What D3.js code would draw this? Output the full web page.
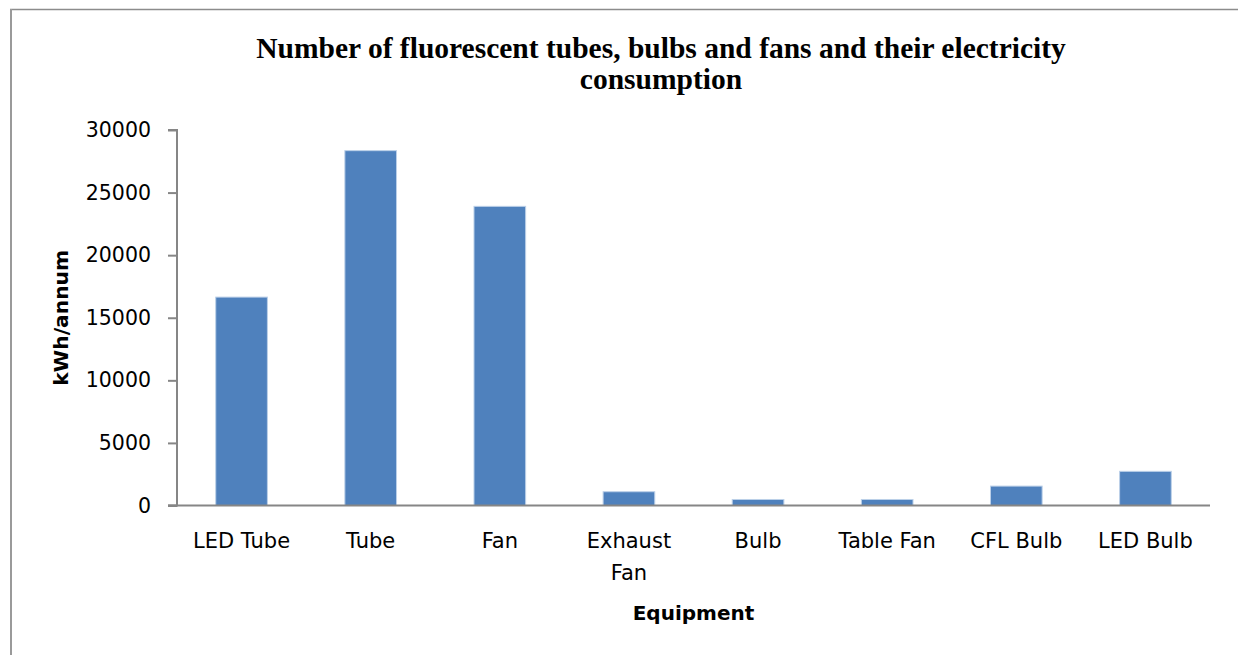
<!DOCTYPE html>
<html>
<head>
<meta charset="utf-8">
<script src="https://cdn.jsdelivr.net/npm/d3@7"></script>
<style>
    body { margin: 0; background: #fff; }
    svg { display: block; }
    .tick text { font-family: "DejaVu Sans", sans-serif; }
</style>
</head>
<body>
<svg id="chart" width="1238" height="655"></svg>
<script>
// data
const categories = ['LED Tube', 'Tube', 'Fan', 'Exhaust Fan', 'Bulb', 'Table Fan', 'CFL Bulb', 'LED Bulb'];
const consumption = [16650, 28350, 23900, 1100, 480, 480, 1550, 2730];
const yTicks = [0, 5000, 10000, 15000, 20000, 25000, 30000];
const titleLines = ['Number of fluorescent tubes, bulbs and fans and their electricity', 'consumption'];

const svg = d3.select('#chart');
const plotLeft = 177, plotRight = 1210, plotTop = 130, plotBottom = 505.5;

// frame of the chart area
svg.append('line').attr('x1', 10).attr('x2', 1238).attr('y1', 9.5).attr('y2', 9.5)
    .attr('stroke', '#8c8c8c').attr('stroke-width', 1.5);
svg.append('line').attr('x1', 11).attr('x2', 11).attr('y1', 9).attr('y2', 655)
    .attr('stroke', '#9a9a9a').attr('stroke-width', 2);

const x = d3.scaleBand()
    .domain(categories)
    .range([plotLeft, plotRight])
    .paddingInner(0.6)
    .paddingOuter(0.3);

const y = d3.scaleLinear()
    .domain([0, 30000])
    .range([plotBottom, plotTop]);

// bars
svg.append('g')
    .selectAll('rect')
    .data(categories)
    .join('rect')
    .attr('x', d => x(d))
    .attr('y', (d, i) => y(consumption[i]))
    .attr('width', x.bandwidth())
    .attr('height', (d, i) => plotBottom - y(consumption[i]))
    .attr('fill', '#4f81bd')
    .attr('stroke', '#bcd0e8')
    .attr('stroke-width', 1);

// y axis
const yAxis = svg.append('g')
    .attr('transform', `translate(${plotLeft},0)`)
    .call(d3.axisLeft(y).tickValues(yTicks).tickSize(9).tickPadding(17).tickFormat(d3.format('d')));
yAxis.selectAll('path, line').attr('stroke', '#868686').attr('stroke-width', 2);
yAxis.select('.domain').attr('d', `M-9,${plotTop}H0V${plotBottom}H-9`);
yAxis.selectAll('.tick text').attr('font-size', 20.5).attr('fill', '#000');

// x axis line
svg.append('line')
    .attr('x1', plotLeft - 9).attr('x2', plotRight)
    .attr('y1', plotBottom).attr('y2', plotBottom)
    .attr('stroke', '#868686').attr('stroke-width', 2);

// category labels, wrapped like the original
const catText = svg.append('g')
    .selectAll('text')
    .data(categories)
    .join('text')
    .attr('x', d => x(d) + x.bandwidth() / 2)
    .attr('y', 548)
    .attr('text-anchor', 'middle')
    .attr('font-family', '"DejaVu Sans", sans-serif')
    .attr('font-size', 21)
    .attr('fill', '#000');
catText.each(function (d) {
    const parts = d === 'Exhaust Fan' ? ['Exhaust', 'Fan'] : [d];
    const t = d3.select(this);
    parts.forEach((p, i) => {
        t.append('tspan')
            .attr('x', x(d) + x.bandwidth() / 2)
            .attr('dy', i === 0 ? 0 : 32)
            .text(p);
    });
});

// axis titles
svg.append('text')
    .attr('x', (plotLeft + plotRight) / 2)
    .attr('y', 620)
    .attr('text-anchor', 'middle')
    .attr('font-family', '"DejaVu Sans", sans-serif')
    .attr('font-weight', 'bold')
    .attr('font-size', 20)
    .text('Equipment');

svg.append('text')
    .attr('transform', `translate(68,${(plotTop + plotBottom) / 2}) rotate(-90)`)
    .attr('text-anchor', 'middle')
    .attr('font-family', '"DejaVu Sans", sans-serif')
    .attr('font-weight', 'bold')
    .attr('font-size', 20.3)
    .text('kWh/annum');

// chart title
svg.append('g')
    .selectAll('text')
    .data(titleLines)
    .join('text')
    .attr('x', 661)
    .attr('y', (d, i) => 58 + i * 31)
    .attr('text-anchor', 'middle')
    .attr('font-family', '"Liberation Serif", "Times New Roman", serif')
    .attr('font-weight', 'bold')
    .attr('font-size', 29.5)
    .text(d => d);
</script>
</body>
</html>
